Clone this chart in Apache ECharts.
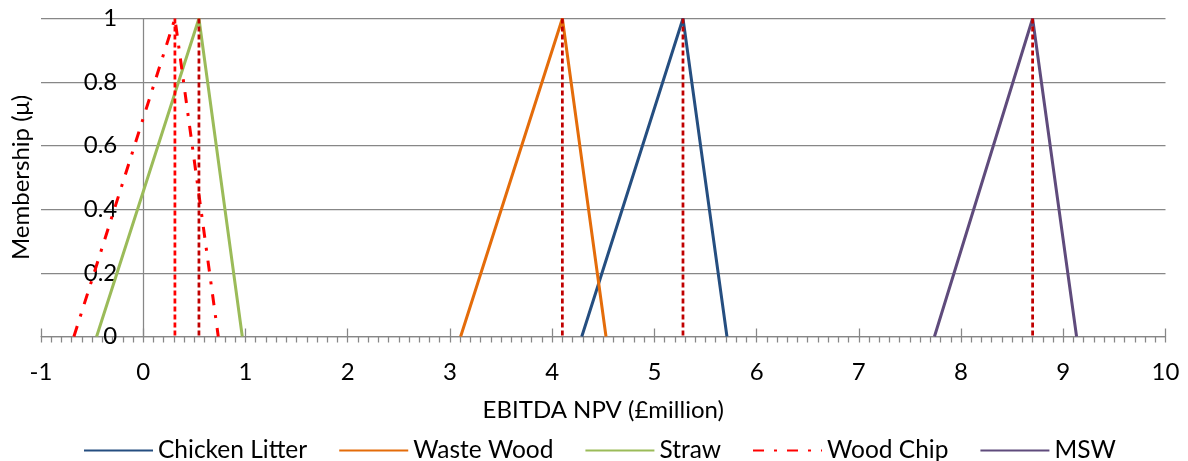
<!DOCTYPE html>
<html>
<head>
<meta charset="utf-8">
<title>EBITDA NPV membership functions</title>
<script src="https://cdn.jsdelivr.net/npm/echarts@6/dist/echarts.min.js"></script>
<style>
  html, body { margin: 0; padding: 0; background: #ffffff; }
  #chart { width: 1188px; height: 461px; }
</style>
</head>
<body>
<div id="chart"></div>
<script>
// Triangular fuzzy numbers for each feedstock: (low, peak, high) in £million
const categories = ['Chicken Litter', 'Waste Wood', 'Straw', 'Wood Chip', 'MSW'];
const lowValues  = [4.29, 3.105, -0.456, -0.678, 7.74];
const peakValues = [5.28, 4.10, 0.545, 0.31, 8.70];
const highValues = [5.71, 4.527, 0.969, 0.734, 9.13];
// Membership at low / peak / high
const membershipLevels = [0, 1, 0];
// Axis ticks
const xTicks = [-1, 0, 1, 2, 3, 4, 5, 6, 7, 8, 9, 10];
const yTicks = [0, 0.2, 0.4, 0.6, 0.8, 1];

const colors = {
  'Chicken Litter': '#254E80',
  'Waste Wood': '#E46C0A',
  'Straw': '#9BBB59',
  'Wood Chip': '#FF0000',
  'MSW': '#5F4B7C'
};
const FONT = 'Lato, "Liberation Sans", sans-serif';
const GRID_COLOR = '#878787';

const GRID_LEFT = 41, GRID_RIGHT = 22.5, GRID_TOP = 18.5, GRID_BOTTOM = 124.5;
const CHART_W = 1188, CHART_H = 461;
const plotW = CHART_W - GRID_LEFT - GRID_RIGHT;
const plotH = CHART_H - GRID_TOP - GRID_BOTTOM;
const xMin = xTicks[0], xMax = xTicks[xTicks.length - 1];
// the vertical axis crosses the horizontal one at x = 0
const yAxisShift = plotW * (0 - xMin) / (xMax - xMin);

const triangleSeries = categories.map((name, i) => {
  const xs = [lowValues[i], peakValues[i], highValues[i]];
  const isChip = name === 'Wood Chip';
  return {
    name: name,
    type: 'line',
    symbol: 'none',
    z: 3,
    data: xs.map((x, k) => [x, membershipLevels[k]]),
    lineStyle: {
      color: colors[name],
      width: 3,
      type: isChip ? [11, 10, 3, 10] : 'solid',
      cap: 'butt'
    },
    itemStyle: { color: colors[name] }
  };
});

// Dashed vertical line at each peak (membership 1 down to 0)
const peakSeries = categories.map((name, i) => ({
  name: name + ' peak',
  type: 'line',
  symbol: 'none',
  z: 4,
  silent: true,
  data: [[peakValues[i], membershipLevels[1]], [peakValues[i], membershipLevels[0]]],
  lineStyle: {
    color: name === 'Wood Chip' ? '#FF0000' : '#C00000',
    width: 2.75,
    type: [5, 3]
  }
}));

const chart = echarts.init(document.getElementById('chart'), null, { renderer: 'canvas' });
chart.setOption({
  animation: false,
  backgroundColor: '#ffffff',
  textStyle: { fontFamily: FONT },
  grid: {
    left: GRID_LEFT, right: GRID_RIGHT, top: GRID_TOP, bottom: GRID_BOTTOM,
    containLabel: false,
    outerBoundsMode: 'none'
  },
  legend: {
    data: categories,
    left: 78,
    top: 433,
    itemWidth: 69,
    itemHeight: 14,
    itemGap: 31,
    itemStyle: { opacity: 0 },
    textStyle: { fontFamily: FONT, fontSize: 24.5, color: '#000' }
  },
  xAxis: [{
    type: 'value',
    min: xMin,
    max: xMax,
    interval: 1,
    name: 'EBITDA NPV (£million)',
    nameLocation: 'middle',
    nameGap: 62,
    nameTextStyle: { fontFamily: FONT, fontSize: 24, color: '#000' },
    axisLine: { onZero: false, lineStyle: { color: GRID_COLOR, width: 1.25 } },
    axisTick: { show: true, length: 6, lineStyle: { color: GRID_COLOR, width: 1.25 } },
    minorTick: { show: true, splitNumber: 10, length: 6, lineStyle: { color: GRID_COLOR, width: 1.25 } },
    axisLabel: { margin: 24, fontFamily: FONT, fontSize: 24, color: '#000' },
    splitLine: { show: false }
  }, {
    // upper half of the major ticks: a top axis moved down onto the baseline
    type: 'value',
    position: 'top',
    offset: -plotH,
    min: xMin,
    max: xMax,
    interval: 1,
    axisLine: { show: false, onZero: false },
    axisTick: { show: true, length: 8, lineStyle: { color: GRID_COLOR, width: 1.25 } },
    axisLabel: { show: false },
    splitLine: { show: false }
  }],
  yAxis: {
    type: 'value',
    position: 'left',
    offset: -yAxisShift,
    min: yTicks[0],
    max: yTicks[yTicks.length - 1],
    interval: 0.2,
    name: 'Membership (μ)',
    nameLocation: 'middle',
    nameGap: 110,
    nameTextStyle: { fontFamily: FONT, fontSize: 24, color: '#000' },
    axisLine: { show: true, onZero: false, lineStyle: { color: GRID_COLOR, width: 1.25 } },
    axisTick: { show: false },
    axisLabel: { margin: 26, fontFamily: FONT, fontSize: 24, color: '#000' },
    splitLine: { show: true, lineStyle: { color: GRID_COLOR, width: 1.25 } }
  },
  series: triangleSeries.concat(peakSeries)
});
</script>
</body>
</html>
